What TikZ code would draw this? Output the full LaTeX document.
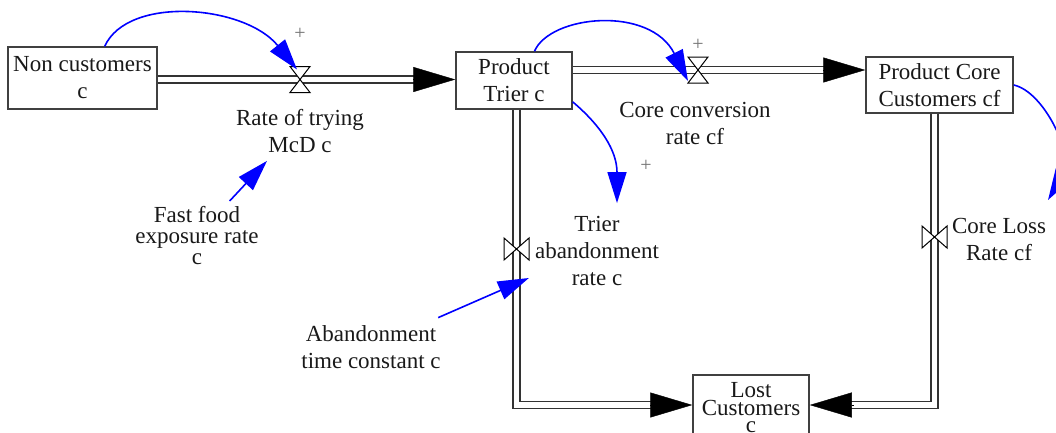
\documentclass[tikz,border=0pt]{standalone}
\usepackage{fontspec}
\setmainfont{Liberation Serif}
\usetikzlibrary{arrows.meta,calc}
\begin{document}
\begin{tikzpicture}[x=1pt,y=-1pt,
  txt/.style={font=\fontsize{23}{27}\selectfont, text=black!90, align=center, inner sep=2pt},
  stock/.style={txt, draw=black!75, line width=1.5pt, fill=white, inner sep=0pt},
  pipe/.style={draw=black!80, line width=1.6pt, double=white, double distance=5.5pt, line join=miter},
  flowtip/.style={-{Triangle[length=42pt,width=25pt]}, black, line width=0.4pt},
  infl/.style={draw=blue, line width=1.6pt, -{Triangle[length=31pt,width=19pt]}},
  plusmark/.style={font=\fontsize{20}{20}\selectfont, text=black!55, inner sep=0pt},
  valveshape/.style={draw=black, line width=1pt, fill=white, line join=miter},
  hvalve/.pic={\path[valveshape] (-10,-13) -- (10,-13) -- (0,0) -- cycle (-10,13) -- (10,13) -- (0,0) -- cycle;},
  bvalve/.pic={\path[valveshape] (-12.5,-11) -- (-12.5,11) -- (0,0) -- cycle (12.5,-11) -- (12.5,11) -- (0,0) -- cycle;}
]
\clip (0,0) rectangle (1056,432);

% stocks
\node[stock, minimum width=149pt, minimum height=62pt] (nc) at (82.5,78) {Non customers\\c};
\node[stock, minimum width=116pt, minimum height=57pt] (pt) at (514,80.5) {Product\\Trier c};
\node[stock, minimum width=147pt, minimum height=56pt] (pc) at (939.5,85) {Product Core\\Customers cf};
\node[stock, minimum width=116pt, minimum height=66pt, font=\fontsize{23}{17.5}\selectfont] (lc) at (751,408) {Lost\\Customers\\c};

% valve positions
\coordinate (v1) at (300,79.5);
\coordinate (v2) at (698,70);
\coordinate (v3) at (516.5,249);
\coordinate (v4) at (934.5,237);
\coordinate (lcw) at ($(lc.west)+(0,-3)$);
\coordinate (lce) at ($(lc.east)+(0,-3)$);

% pipes
\draw[pipe, shorten >=20pt] (nc.east |- v1) -- (pt.west |- v1);
\draw[flowtip] ($(pt.west |- v1)+(-42,0)$) -- (pt.west |- v1);
\draw[pipe, shorten >=20pt] (pt.east |- v2) -- (pc.west |- v2);
\draw[flowtip] ($(pc.west |- v2)+(-42,0)$) -- (pc.west |- v2);
\draw[pipe, shorten >=20pt] (v3 |- pt.south) |- (lcw);
\draw[flowtip] ($(lcw)+(-40,0)$) -- (lcw);
\draw[pipe, shorten >=20pt] (v4 |- pc.south) |- (lce);
\draw[flowtip] ($(lce)+(44,0)$) -- (lce);

% valves
\pic at (v1) {hvalve};
\pic at (v2) {hvalve};
\pic at (v3) {bvalve};
\pic at (v4) {bvalve};

% auxiliary labels
\node[txt] (rt) at (300,131) {Rate of trying\\McD c};
\node[txt] (cc) at (695,123) {Core conversion\\rate cf};
\node[txt] (tb) at (597,251) {Trier\\abandonment\\rate c};
\node[txt] (cl) at (999,239) {Core Loss\\Rate cf};
\node[txt, font=\fontsize{23}{21}\selectfont] (ff) at (197,236) {Fast food\\exposure rate\\c};
\node[txt] (ab) at (371,347) {Abandonment\\time constant c};

\node[plusmark] (p1) at (300,34) {+};
\node[plusmark] (p2) at (698,45) {+};
\node[plusmark] (p3) at (646,166) {+};

% influences
\draw[infl] (nc.55) .. controls (128,-5) and (245,5) .. ($(v1)+(-3,-10)$);
\draw[infl] (pt.55) .. controls (550,15) and (650,5) .. ($(v2)+(-10,11)$);
\draw[infl] (pt.-20) .. controls (600,125) and (617,150) .. ($(tb.north)+(20,-11)$);
\coordinate (clout) at (1048,200);
\draw[infl] (pc.east) .. controls (1045,92) and (1074,157) .. (clout);
\draw[infl, shorten <=5pt] (ff) -- ($(rt.south)+(-33,6)$);
\draw[infl, shorten <=14pt] (ab) -- ($(tb.west)+(-4,27)$);
\end{tikzpicture}
\end{document}
